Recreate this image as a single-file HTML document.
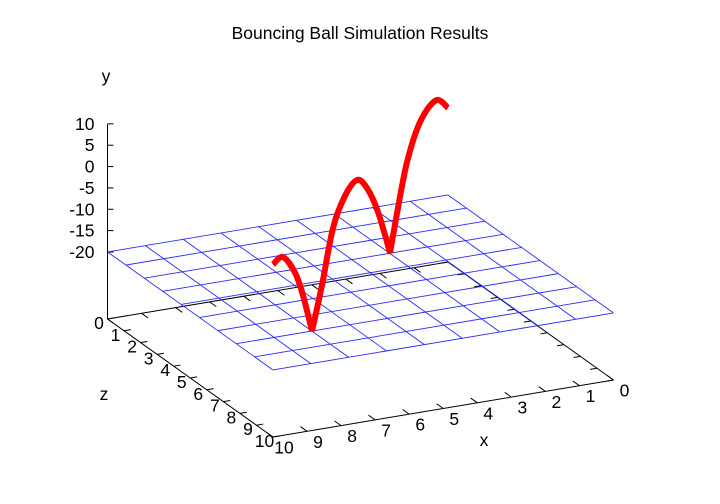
<!DOCTYPE html>
<html><head><meta charset="utf-8"><style>
html,body{margin:0;padding:0;background:#fff;}
svg{display:block;font-family:"Liberation Sans",sans-serif;}
</style></head><body>
<svg id="chart" width="720" height="504" viewBox="0 0 720 504" xmlns="http://www.w3.org/2000/svg">
<rect width="720" height="504" fill="#fff"/>
<text x="360" y="39" text-anchor="middle" font-size="17.5">Bouncing Ball Simulation Results</text>
<text x="106" y="82" text-anchor="middle" font-size="17.5">y</text>
<text x="104" y="400" text-anchor="middle" font-size="17.5">z</text>
<text x="484" y="446" text-anchor="middle" font-size="17.5">x</text>
<g id="axes"></g>
<g id="grid"></g>
<g id="series"></g>
</svg>
<script>
// ---- data ----
const ballX = [10, 9.43, 8.74, 8.29, 7.77, 7.2, 6.57, 5.89, 5.2, 4.63, 4.0, 3.31, 2.91, 2.34, 1.6, 0.69, 0];
const ballZ = [10, 9.43, 8.74, 8.29, 7.77, 7.2, 6.57, 5.89, 5.2, 4.63, 4.0, 3.31, 2.91, 2.34, 1.6, 0.69, 0];
const ballY = [4.7, 4.1, -2.4, -9.5, -20, -11.6, -0.8, 3.9, 4.8, 0.6, -7.6, -20, -12.3, -2.7, 3.6, 5.0, 0.4];
const yTicks = [-20, -15, -10, -5, 0, 5, 10];
const xTicks = [0, 1, 2, 3, 4, 5, 6, 7, 8, 9, 10];
const zTicks = [0, 1, 2, 3, 4, 5, 6, 7, 8, 9, 10];
const gridLevel = -20;
const gridLines = 10;

// ---- projection ----
const O = [448, 262], UX = [-34.05, 5.7], UZ = [16.55, 11.8];
const KY = 4.27, YBASE = -35.7;
function P(x, y, z) {
  return [O[0] + x*UX[0] + z*UZ[0], O[1] + x*UX[1] + z*UZ[1] - (y - YBASE)*KY];
}
const NS = "http://www.w3.org/2000/svg";
function line(g, a, b, stroke, w, name) {
  const l = document.createElementNS(NS, "line");
  l.setAttribute("x1", a[0]); l.setAttribute("y1", a[1]);
  l.setAttribute("x2", b[0]); l.setAttribute("y2", b[1]);
  l.setAttribute("stroke", stroke); l.setAttribute("stroke-width", w);
  
  
  g.appendChild(l); return l;
}
function text(g, x, y, s, anchor, name) {
  const t = document.createElementNS(NS, "text");
  t.setAttribute("x", x); t.setAttribute("y", y);
  t.setAttribute("text-anchor", anchor); t.setAttribute("font-size", "17.5");
  t.textContent = s;
  
  
  g.appendChild(t);
}
const axes = document.getElementById("axes");
line(axes, P(0,YBASE,0), P(10,YBASE,0), "#000", 1, "x-axis-back");
line(axes, P(10,YBASE,0), P(10,YBASE,10), "#000", 1, "z-axis-line");
line(axes, P(10,YBASE,10), P(0,YBASE,10), "#000", 1, "x-axis-line");
line(axes, P(0,YBASE,10), P(0,YBASE,0), "#000", 1, "z-axis-back");
line(axes, P(10,YBASE,0), P(10,10,0), "#000", 1, "y-axis-line");
yTicks.forEach(v => {
  const p = P(10, v, 0);
  line(axes, p, [p[0]+6, p[1]], "#000", 1, "y-tick");
  text(axes, p[0]-13, p[1]+6, String(v), "end", "y-tick-label");
});
const TL = 0.2;
zTicks.forEach(v => {
  line(axes, P(10,YBASE,v), P(10-TL,YBASE,v), "#000", 1, "z-tick");
  line(axes, P(0,YBASE,v), P(TL,YBASE,v), "#000", 1, "z-tick-mirror");
  const p = P(10, YBASE, v);
  text(axes, p[0]-8.5, p[1]+10, String(v), "middle", "z-tick-label");
});
xTicks.forEach(v => {
  line(axes, P(v,YBASE,10), P(v,YBASE,10-0.4), "#000", 1, "x-tick");
  line(axes, P(v,YBASE,0), P(v,YBASE,0.4), "#000", 1, "x-tick-mirror");
  const p = P(v, YBASE, 10);
  text(axes, p[0]+11, p[1]+16.5, String(v), "middle", "x-tick-label");
});
const grid = document.getElementById("grid");
for (let i = 0; i < gridLines; i++) {
  const v = 10 * i / (gridLines - 1);
  line(grid, P(v, gridLevel, 0), P(v, gridLevel, 10), "#2a2aff", 0.9, "grid-line-z");
  line(grid, P(0, gridLevel, v), P(10, gridLevel, v), "#2a2aff", 0.9, "grid-line-x");
}
const pts = ballX.map((x, i) => P(x, ballY[i], ballZ[i]));
const arcs = []; let cur = [pts[0]];
for (let i = 1; i < pts.length; i++) {
  cur.push(pts[i]);
  if (ballY[i] <= gridLevel && i < pts.length - 1) { arcs.push(cur); cur = [pts[i]]; }
}
arcs.push(cur);
const series = document.getElementById("series");
arcs.forEach(a => {
  let d = "M" + a[0][0] + "," + a[0][1];
  for (let i = 0; i < a.length - 1; i++) {
    const p0 = a[Math.max(0, i-1)], p1 = a[i], p2 = a[i+1], p3 = a[Math.min(a.length-1, i+2)];
    const c1 = [p1[0] + (p2[0]-p0[0])/6, p1[1] + (p2[1]-p0[1])/6];
    const c2 = [p2[0] - (p3[0]-p1[0])/6, p2[1] - (p3[1]-p1[1])/6];
    d += " C" + c1[0] + "," + c1[1] + " " + c2[0] + "," + c2[1] + " " + p2[0] + "," + p2[1];
  }
  const path = document.createElementNS(NS, "path");
  path.setAttribute("d", d);
  path.setAttribute("fill", "none");
  path.setAttribute("stroke", "#ff0000");
  path.setAttribute("stroke-width", "6");
  path.setAttribute("stroke-linejoin", "round");
  
  
  series.appendChild(path);
});
</script>
</body></html>
